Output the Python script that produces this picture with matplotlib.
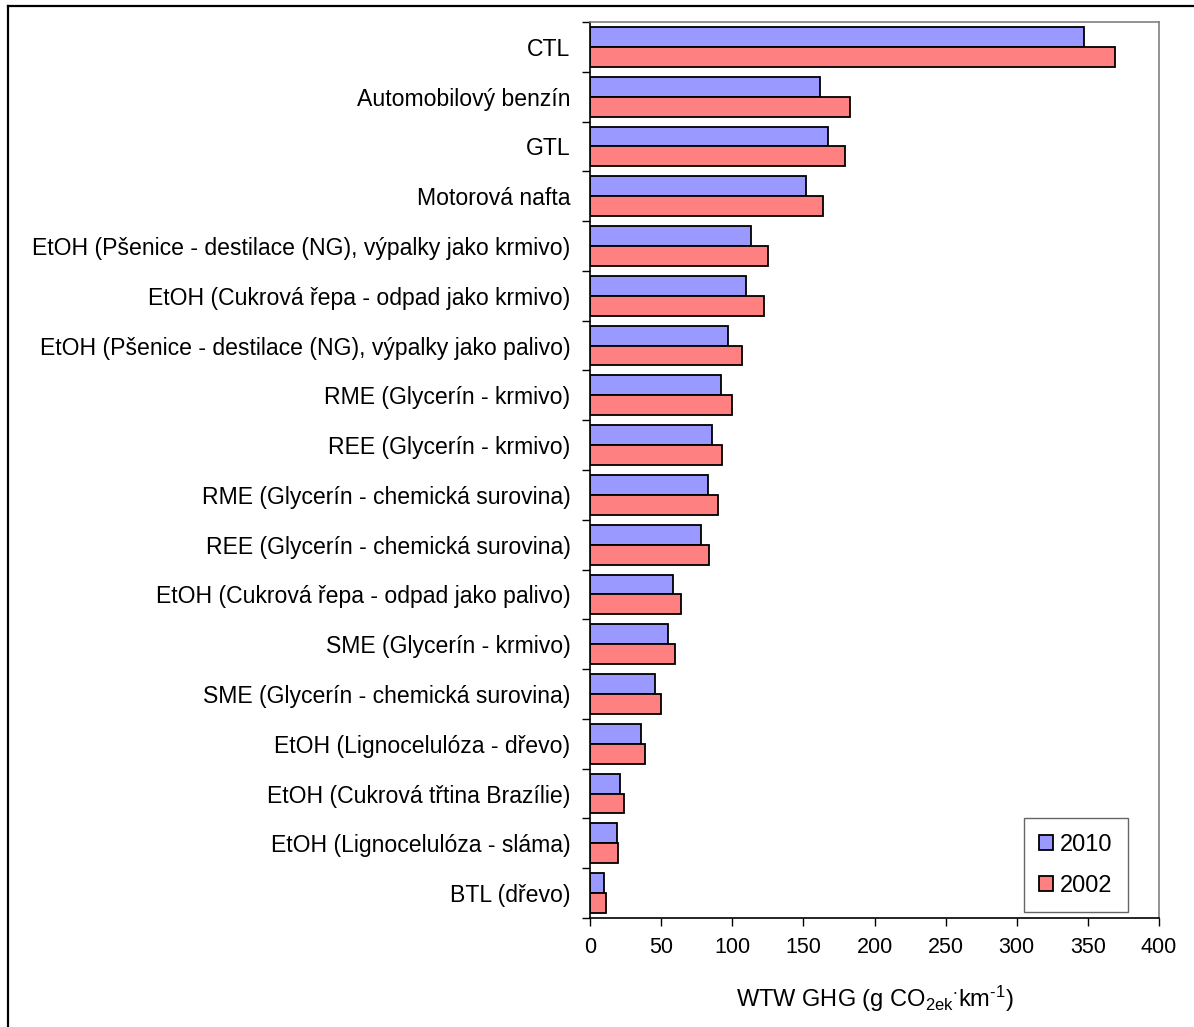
import matplotlib
matplotlib.use("Agg")
import matplotlib.pyplot as plt
from matplotlib.lines import Line2D
from matplotlib.patches import Patch
import numpy as np

plt.rcParams['font.family'] = ['Liberation Sans', 'DejaVu Sans']
plt.rcParams['mathtext.fontset'] = 'custom'
plt.rcParams['mathtext.rm'] = 'Liberation Sans'
plt.rcParams['mathtext.it'] = 'Liberation Sans'
plt.rcParams['mathtext.default'] = 'regular'

categories = [
    "CTL",
    "Automobilový benzín",
    "GTL",
    "Motorová nafta",
    "EtOH (Pšenice - destilace (NG), výpalky jako krmivo)",
    "EtOH (Cukrová řepa - odpad jako krmivo)",
    "EtOH (Pšenice - destilace (NG), výpalky jako palivo)",
    "RME (Glycerín - krmivo)",
    "REE (Glycerín - krmivo)",
    "RME (Glycerín - chemická surovina)",
    "REE (Glycerín - chemická surovina)",
    "EtOH (Cukrová řepa - odpad jako palivo)",
    "SME (Glycerín - krmivo)",
    "SME (Glycerín - chemická surovina)",
    "EtOH (Lignocelulóza - dřevo)",
    "EtOH (Cukrová třtina Brazílie)",
    "EtOH (Lignocelulóza - sláma)",
    "BTL (dřevo)",
]
values_2010 = [347, 162, 167, 152, 113, 110, 97, 92, 86, 83, 78, 58, 55, 46, 36, 21, 19, 10]
values_2002 = [369, 183, 179, 164, 125, 122, 107, 100, 93, 90, 84, 64, 60, 50, 39, 24, 20, 11]
series_labels = ["2010", "2002"]
xticks = [0, 50, 100, 150, 200, 250, 300, 350, 400]

c2010 = "#9999FF"
c2002 = "#FF8080"
FS_TICK = 15.5
FS_CAT = 16.6
FS_BIG = 17.0

fig = plt.figure(figsize=(11.94, 10.27), dpi=100)
ax = fig.add_axes([590/1194, 1-918/1027, (1159-590)/1194, (918-22)/1027])

y = np.arange(len(categories))
ax.barh(y - 0.2, values_2010, height=0.4, color=c2010, edgecolor='black', linewidth=1.3, label=series_labels[0])
ax.barh(y + 0.2, values_2002, height=0.4, color=c2002, edgecolor='black', linewidth=1.3, label=series_labels[1])

ax.set_xlim(0, 400)
ax.set_ylim(len(categories) - 0.5, -0.5)
ax.set_xticks(xticks)
ax.set_xticklabels([str(t) for t in xticks], fontsize=FS_TICK)
ax.tick_params(axis='x', direction='out', length=6, width=1, pad=8)

ax.set_yticks(y)
ax.set_yticklabels(categories, fontsize=FS_CAT)
ax.tick_params(axis='y', which='major', length=0, pad=14)
ax.set_yticks(np.arange(-0.5, len(categories) + 0.5, 1.0), minor=True)
ax.tick_params(axis='y', which='minor', direction='out', length=6, width=1)

for s in ['left', 'bottom']:
    ax.spines[s].set_color('black')
    ax.spines[s].set_linewidth(1.2)
for s in ['top', 'right']:
    ax.spines[s].set_color('#808080')
    ax.spines[s].set_linewidth(1.2)

ax.set_xlabel('WTW GHG (g CO$_{2ek}$$^{\\cdot}$km$^{\u20101}$)', fontsize=FS_BIG, labelpad=18)

handles = [Patch(facecolor=c2010, edgecolor='black', linewidth=1.3),
           Patch(facecolor=c2002, edgecolor='black', linewidth=1.3)]
leg = ax.legend(handles, series_labels, loc='lower right', bbox_to_anchor=(0.9455, 0.0067),
                fontsize=FS_BIG, frameon=True, fancybox=False, edgecolor='#404040',
                handlelength=0.6, handleheight=0.6, handletextpad=0.3,
                labelspacing=0.8, borderpad=0.65, borderaxespad=0)
leg.get_frame().set_linewidth(1.0)

# outer frame of the chart area (right and bottom edges fall outside the picture)
x0 = 7.5/1194
ytop = 1 - 5.5/1027
fig.add_artist(Line2D([x0, x0], [0, ytop], transform=fig.transFigure, color='black', lw=1.6))
fig.add_artist(Line2D([x0, 1], [ytop, ytop], transform=fig.transFigure, color='black', lw=1.6))

fig.savefig("out.png", dpi=100)
